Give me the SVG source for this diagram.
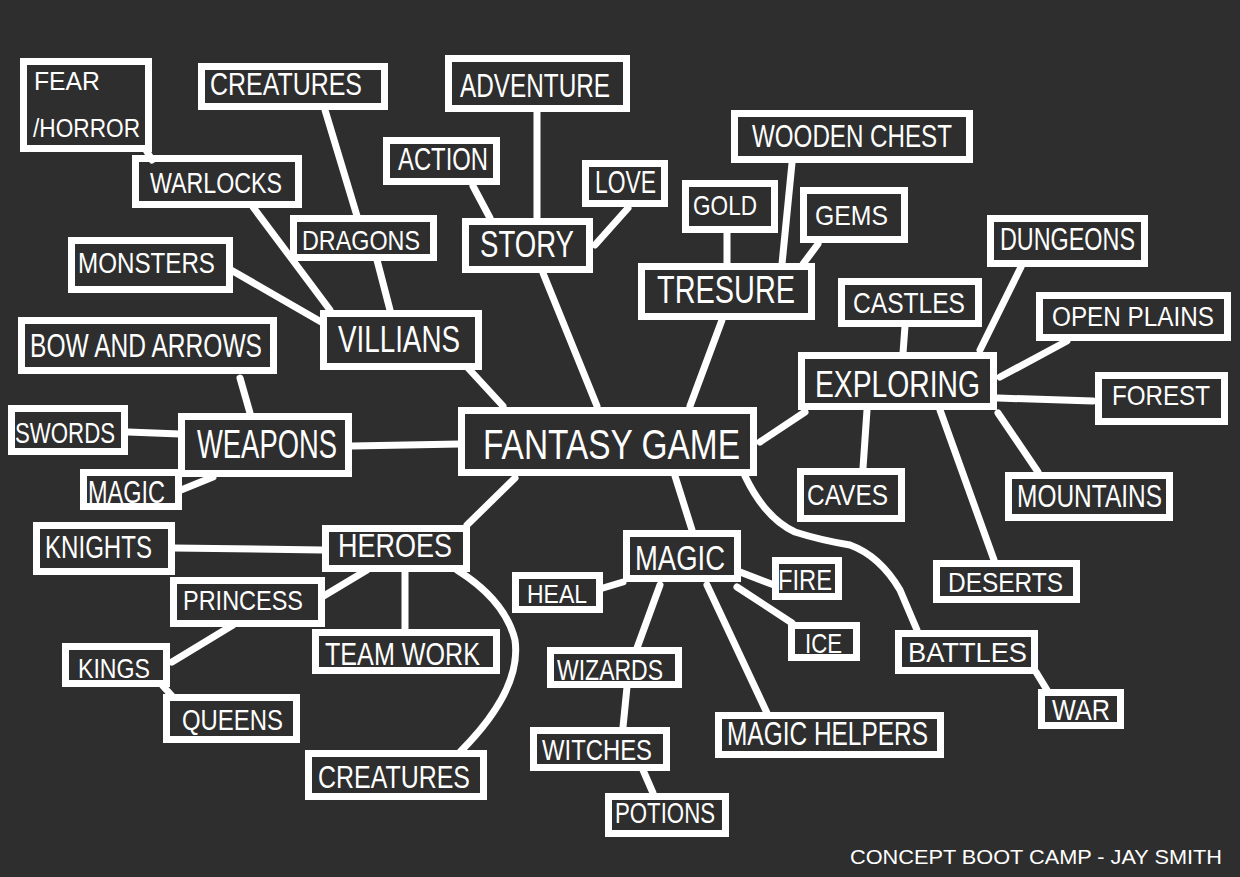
<svg xmlns="http://www.w3.org/2000/svg" width="1240" height="877" viewBox="0 0 1240 877">
<style>
.bg{fill:#2e2e2e}
.box{fill:none;stroke:#fff;stroke-width:7;stroke-linejoin:miter}
.conn{fill:none;stroke:#fff;stroke-width:7;stroke-linecap:round;stroke-linejoin:round}
text{font-family:"Liberation Sans","DejaVu Sans",sans-serif;fill:#fff}
</style>
<rect class="bg" x="0" y="0" width="1240" height="877"/>
<g id="connectors">
<path class="conn" d="M146 150 L152 160"/>
<path class="conn" d="M325 110 L357 216"/>
<path class="conn" d="M253 207 L330 310"/>
<path class="conn" d="M377 260 L390 310"/>
<path class="conn" d="M231 270 L323 323"/>
<path class="conn" d="M473 186 L490 218"/>
<path class="conn" d="M537 112 L537 218"/>
<path class="conn" d="M628 208 L595 245"/>
<path class="conn" d="M543 273 L597 406"/>
<path class="conn" d="M468 368 L503 406"/>
<path class="conn" d="M722 320 L690 406"/>
<path class="conn" d="M727 232 L727 265"/>
<path class="conn" d="M792 163 L782 264"/>
<path class="conn" d="M818 244 L803 264"/>
<path class="conn" d="M905 326 L903 353"/>
<path class="conn" d="M1021 267 L980 350"/>
<path class="conn" d="M1067 341 L1000 377"/>
<path class="conn" d="M998 398 L1093 401"/>
<path class="conn" d="M760 442 L805 412"/>
<path class="conn" d="M867 410 L863 468"/>
<path class="conn" d="M940 410 L994 560"/>
<path class="conn" d="M998 413 L1038 472"/>
<path class="conn" d="M745 476 Q765 518 795 532 Q820 540 850 545 Q880 556 900 590 L917 630"/>
<path class="conn" d="M675 476 L692 530"/>
<path class="conn" d="M515 478 L467 525"/>
<path class="conn" d="M352 446 L460 444"/>
<path class="conn" d="M240 378 L250 413"/>
<path class="conn" d="M128 432 L180 434"/>
<path class="conn" d="M181 490 L213 477"/>
<path class="conn" d="M173 548 L322 550"/>
<path class="conn" d="M367 570 L322 597"/>
<path class="conn" d="M405 572 L405 630"/>
<path class="conn" d="M457 570 Q505 600 515 640 Q522 690 460 752"/>
<path class="conn" d="M233 625 L172 662"/>
<path class="conn" d="M163 686 L172 696"/>
<path class="conn" d="M623 582 L603 588"/>
<path class="conn" d="M740 572 L774 585"/>
<path class="conn" d="M737 587 L792 623"/>
<path class="conn" d="M660 585 L637 648"/>
<path class="conn" d="M707 585 L767 713"/>
<path class="conn" d="M627 687 L623 727"/>
<path class="conn" d="M643 770 L653 793"/>
<path class="conn" d="M1036 672 L1047 690"/>
</g>
<g id="n-fear"><rect class="box" x="23.5" y="61.5" width="125" height="87"/><text x="34" y="90" font-size="25" textLength="66" lengthAdjust="spacingAndGlyphs">FEAR</text><text x="33" y="137" font-size="25" textLength="107" lengthAdjust="spacingAndGlyphs">/HORROR</text></g>
<g id="n-creatures-top"><rect class="box" x="201.5" y="66.5" width="183" height="40"/><text x="210" y="95" font-size="31" textLength="152" lengthAdjust="spacingAndGlyphs">CREATURES</text></g>
<g id="n-adventure"><rect class="box" x="448.5" y="58.5" width="178" height="50"/><text x="460" y="97" font-size="33" textLength="150" lengthAdjust="spacingAndGlyphs">ADVENTURE</text></g>
<g id="n-action"><rect class="box" x="386.5" y="140.5" width="110" height="41"/><text x="398" y="170" font-size="31" textLength="90" lengthAdjust="spacingAndGlyphs">ACTION</text></g>
<g id="n-love"><rect class="box" x="585.5" y="163.5" width="79" height="40"/><text x="595" y="193" font-size="32" textLength="61" lengthAdjust="spacingAndGlyphs">LOVE</text></g>
<g id="n-wooden-chest"><rect class="box" x="734.5" y="113.5" width="235" height="46"/><text x="752" y="147" font-size="31" textLength="200" lengthAdjust="spacingAndGlyphs">WOODEN CHEST</text></g>
<g id="n-gold"><rect class="box" x="685.5" y="183.5" width="89" height="46"/><text x="693" y="215" font-size="28" textLength="64" lengthAdjust="spacingAndGlyphs">GOLD</text></g>
<g id="n-gems"><rect class="box" x="803.5" y="190.5" width="101" height="49"/><text x="815" y="225" font-size="28" textLength="73" lengthAdjust="spacingAndGlyphs">GEMS</text></g>
<g id="n-warlocks"><rect class="box" x="135.5" y="158.5" width="163" height="46"/><text x="150" y="193" font-size="29" textLength="132" lengthAdjust="spacingAndGlyphs">WARLOCKS</text></g>
<g id="n-dragons"><rect class="box" x="293.5" y="218.5" width="140" height="39"/><text x="302" y="250" font-size="28" textLength="118" lengthAdjust="spacingAndGlyphs">DRAGONS</text></g>
<g id="n-story"><rect class="box" x="465.5" y="221.5" width="124" height="48"/><text x="480" y="257" font-size="37" textLength="94" lengthAdjust="spacingAndGlyphs">STORY</text></g>
<g id="n-tresure"><rect class="box" x="641.5" y="266.5" width="170" height="50"/><text x="657" y="303" font-size="38" textLength="138" lengthAdjust="spacingAndGlyphs">TRESURE</text></g>
<g id="n-monsters"><rect class="box" x="71.5" y="240.5" width="158" height="49"/><text x="78" y="273" font-size="29" textLength="137" lengthAdjust="spacingAndGlyphs">MONSTERS</text></g>
<g id="n-villians"><rect class="box" x="323.5" y="313.5" width="155" height="53"/><text x="338" y="352" font-size="37" textLength="122" lengthAdjust="spacingAndGlyphs">VILLIANS</text></g>
<g id="n-bow"><rect class="box" x="21.5" y="320.5" width="252" height="50"/><text x="30" y="357" font-size="33" textLength="232" lengthAdjust="spacingAndGlyphs">BOW AND ARROWS</text></g>
<g id="n-castles"><rect class="box" x="841.5" y="281.5" width="137" height="42"/><text x="853" y="313" font-size="29" textLength="112" lengthAdjust="spacingAndGlyphs">CASTLES</text></g>
<g id="n-dungeons"><rect class="box" x="990.5" y="218.5" width="154" height="45"/><text x="1000" y="250" font-size="31" textLength="135" lengthAdjust="spacingAndGlyphs">DUNGEONS</text></g>
<g id="n-open-plains"><rect class="box" x="1039.5" y="295.5" width="188" height="42"/><text x="1052" y="326" font-size="27" textLength="162" lengthAdjust="spacingAndGlyphs">OPEN PLAINS</text></g>
<g id="n-exploring"><rect class="box" x="801.5" y="355.5" width="192" height="51"/><text x="815" y="397" font-size="37" textLength="165" lengthAdjust="spacingAndGlyphs">EXPLORING</text></g>
<g id="n-forest"><rect class="box" x="1098.5" y="375.5" width="126" height="46"/><text x="1112" y="405" font-size="28" textLength="98" lengthAdjust="spacingAndGlyphs">FOREST</text></g>
<g id="n-swords"><rect class="box" x="11.5" y="408.5" width="113" height="43"/><text x="15" y="443" font-size="30" textLength="100" lengthAdjust="spacingAndGlyphs">SWORDS</text></g>
<g id="n-weapons"><rect class="box" x="181.5" y="416.5" width="167" height="57"/><text x="197" y="458" font-size="41" textLength="140" lengthAdjust="spacingAndGlyphs">WEAPONS</text></g>
<g id="n-fantasy"><rect class="box" x="461.5" y="410.5" width="292" height="62"/><text x="483" y="459" font-size="42" textLength="257" lengthAdjust="spacingAndGlyphs">FANTASY GAME</text></g>
<g id="n-magic-weapon"><rect class="box" x="83.5" y="472.5" width="95" height="34"/><text x="88" y="503" font-size="31" textLength="77" lengthAdjust="spacingAndGlyphs">MAGIC</text></g>
<g id="n-knights"><rect class="box" x="36.5" y="525.5" width="135" height="46"/><text x="45" y="558" font-size="32" textLength="107" lengthAdjust="spacingAndGlyphs">KNIGHTS</text></g>
<g id="n-heroes"><rect class="box" x="325.5" y="528.5" width="141" height="40"/><text x="338" y="557" font-size="33" textLength="114" lengthAdjust="spacingAndGlyphs">HEROES</text></g>
<g id="n-princess"><rect class="box" x="173.5" y="580.5" width="148" height="43"/><text x="183" y="610" font-size="28" textLength="120" lengthAdjust="spacingAndGlyphs">PRINCESS</text></g>
<g id="n-teamwork"><rect class="box" x="315.5" y="632.5" width="181" height="38"/><text x="325" y="665" font-size="32" textLength="155" lengthAdjust="spacingAndGlyphs">TEAM WORK</text></g>
<g id="n-kings"><rect class="box" x="65.5" y="646.5" width="101" height="37"/><text x="78" y="678" font-size="28" textLength="72" lengthAdjust="spacingAndGlyphs">KINGS</text></g>
<g id="n-queens"><rect class="box" x="166.5" y="697.5" width="130" height="42"/><text x="182" y="730" font-size="30" textLength="101" lengthAdjust="spacingAndGlyphs">QUEENS</text></g>
<g id="n-creatures-bottom"><rect class="box" x="308.5" y="753.5" width="175" height="43"/><text x="318" y="788" font-size="32" textLength="152" lengthAdjust="spacingAndGlyphs">CREATURES</text></g>
<g id="n-caves"><rect class="box" x="800.5" y="471.5" width="101" height="47"/><text x="807" y="505" font-size="30" textLength="81" lengthAdjust="spacingAndGlyphs">CAVES</text></g>
<g id="n-mountains"><rect class="box" x="1008.5" y="475.5" width="161" height="42"/><text x="1017" y="507" font-size="31" textLength="145" lengthAdjust="spacingAndGlyphs">MOUNTAINS</text></g>
<g id="n-magic"><rect class="box" x="626.5" y="533.5" width="111" height="45"/><text x="635" y="570" font-size="35" textLength="90" lengthAdjust="spacingAndGlyphs">MAGIC</text></g>
<g id="n-heal"><rect class="box" x="515.5" y="575.5" width="84" height="34"/><text x="527" y="603" font-size="25" textLength="60" lengthAdjust="spacingAndGlyphs">HEAL</text></g>
<g id="n-fire"><rect class="box" x="775.5" y="560.5" width="63" height="36"/><text x="778" y="590" font-size="30" textLength="54" lengthAdjust="spacingAndGlyphs">FIRE</text></g>
<g id="n-ice"><rect class="box" x="791.5" y="625.5" width="65" height="32"/><text x="805" y="653" font-size="28" textLength="37" lengthAdjust="spacingAndGlyphs">ICE</text></g>
<g id="n-deserts"><rect class="box" x="936.5" y="563.5" width="140" height="36"/><text x="948" y="592" font-size="27" textLength="115" lengthAdjust="spacingAndGlyphs">DESERTS</text></g>
<g id="n-battles"><rect class="box" x="898.5" y="633.5" width="136" height="37"/><text x="908" y="662" font-size="28" textLength="119" lengthAdjust="spacingAndGlyphs">BATTLES</text></g>
<g id="n-war"><rect class="box" x="1041.5" y="692.5" width="79" height="33"/><text x="1052" y="720" font-size="30" textLength="58" lengthAdjust="spacingAndGlyphs">WAR</text></g>
<g id="n-wizards"><rect class="box" x="550.5" y="650.5" width="128" height="34"/><text x="557" y="680" font-size="30" textLength="106" lengthAdjust="spacingAndGlyphs">WIZARDS</text></g>
<g id="n-witches"><rect class="box" x="533.5" y="730.5" width="133" height="37"/><text x="542" y="760" font-size="30" textLength="110" lengthAdjust="spacingAndGlyphs">WITCHES</text></g>
<g id="n-magic-helpers"><rect class="box" x="718.5" y="715.5" width="222" height="39"/><text x="727" y="745" font-size="33" textLength="201" lengthAdjust="spacingAndGlyphs">MAGIC HELPERS</text></g>
<g id="n-potions"><rect class="box" x="608.5" y="796.5" width="117" height="37"/><text x="615" y="823" font-size="29" textLength="100" lengthAdjust="spacingAndGlyphs">POTIONS</text></g>
<text x="850" y="864" font-size="21" textLength="372" lengthAdjust="spacingAndGlyphs">CONCEPT BOOT CAMP - JAY SMITH</text>
</svg>
